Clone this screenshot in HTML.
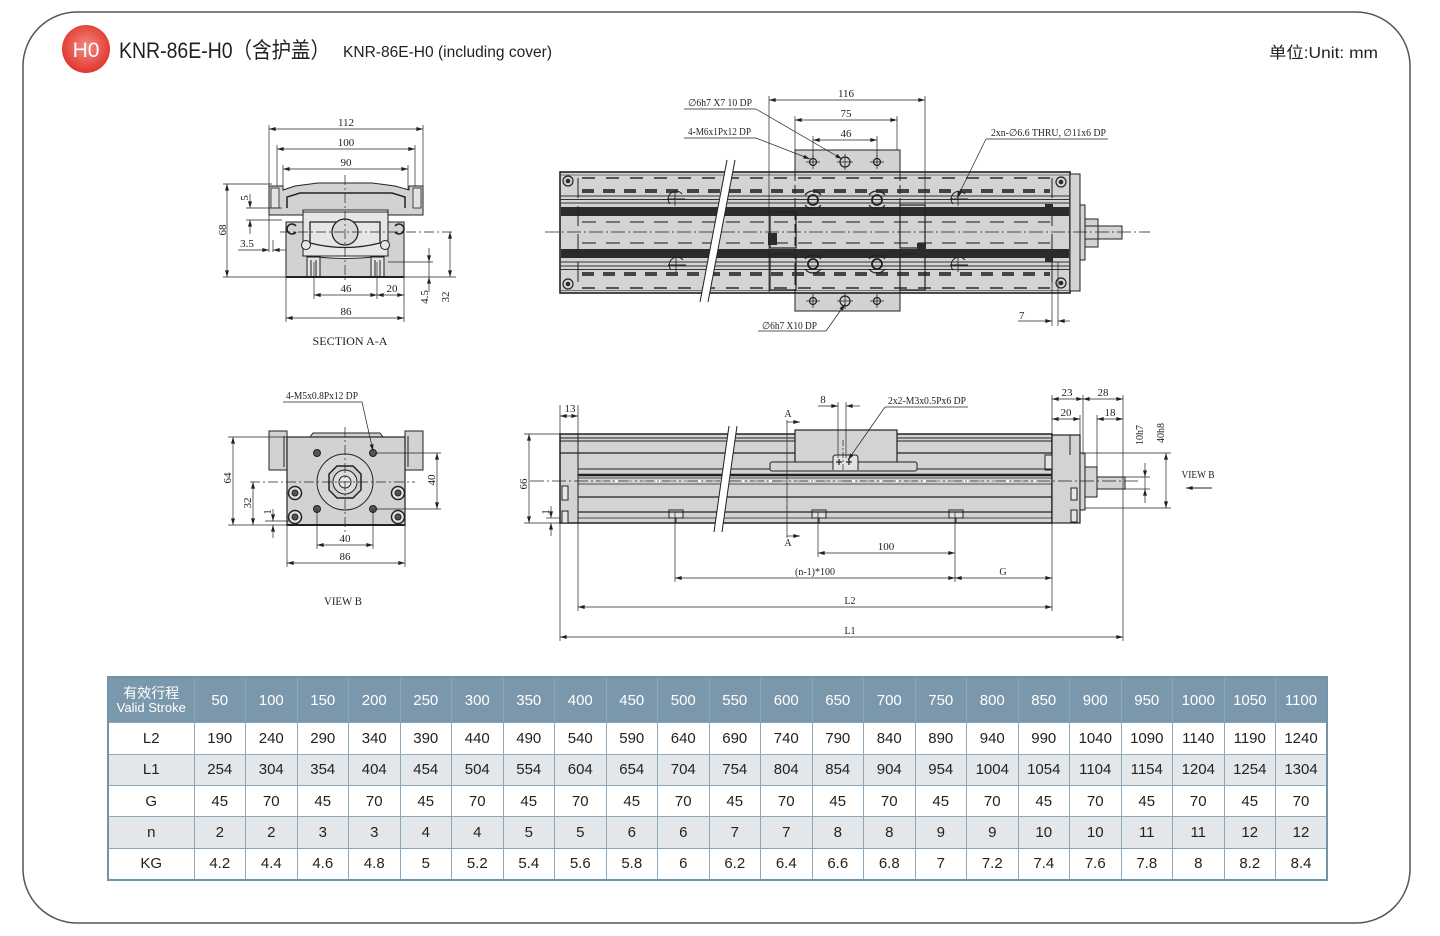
<!DOCTYPE html>
<html><head><meta charset="utf-8">
<style>
html,body{margin:0;padding:0;background:#fff;}
body{width:1440px;height:936px;position:relative;overflow:hidden;font-family:"Liberation Sans","Noto Sans CJK SC",sans-serif;}
svg{position:absolute;left:0;top:0;}
table{position:absolute;left:107px;top:676px;width:1219px;height:205px;border-collapse:collapse;table-layout:fixed;font-family:"Liberation Sans","Noto Sans CJK SC",sans-serif;font-size:15px;color:#222;border:2px solid #7194ab;}
td,th{border:1px solid #8ca7ba;text-align:center;padding:0;}
th{background:#7b97ab;color:#fff;font-weight:normal;height:44px;font-size:15px;}
td{height:30px;background:#fff;}
tr.alt td{background:#e3e7ea;}
.h1{font-size:14px;line-height:15px;font-family:"Liberation Sans","Noto Sans CJK SC",sans-serif;}
.h2{font-size:13px;line-height:14px;}
</style></head><body>
<svg width="1440" height="936" viewBox="0 0 1440 936" xmlns="http://www.w3.org/2000/svg">
<defs>
<marker id="ar" viewBox="0 0 10 6" refX="10" refY="3" markerWidth="8" markerHeight="4" markerUnits="userSpaceOnUse" orient="auto-start-reverse"><path d="M0,0 L10,3 L0,6z" fill="#222"/></marker>
<radialGradient id="rg" cx="50%" cy="45%" r="55%"><stop offset="0" stop-color="#f58b80"/><stop offset="1" stop-color="#e0352e"/></radialGradient>
</defs>
<rect x="23" y="12" width="1387" height="911" rx="54" ry="54" fill="none" stroke="#555" stroke-width="1.5"/>
<circle cx="86" cy="49" r="24" fill="url(#rg)"/>
<text x="86" y="57" font-family="Liberation Sans, sans-serif" font-size="21" fill="#fff" text-anchor="middle">H0</text>
<text x="119" y="58" font-family="Liberation Sans, Noto Sans CJK SC, sans-serif" font-size="22" fill="#231f20" textLength="211" lengthAdjust="spacingAndGlyphs">KNR-86E-H0（含护盖）</text>
<text x="343" y="57" font-family="Liberation Sans, sans-serif" font-size="16" fill="#231f20" textLength="209" lengthAdjust="spacingAndGlyphs">KNR-86E-H0 (including cover)</text>
<text x="1269" y="58" font-family="Liberation Sans, Noto Sans CJK SC, sans-serif" font-size="16" fill="#231f20" textLength="109" lengthAdjust="spacingAndGlyphs">单位:Unit: mm</text>

<!-- ============ SECTION A-A ============ -->
<g stroke="#222" stroke-width="1">
<path d="M269,186 L283,186 L283,190 L295,186 L318,183 L372,183 L395,186 L409,190 L409,186 L423,186 L423,215 L388,215 L388,210 L303,210 L303,215 L269,215 Z" fill="#d2d2d2"/>
<path d="M287,208 L287,197 L300,193 L392,193 L405,197 L405,208" fill="none" stroke-width="1.5"/>
<rect x="271" y="188" width="8" height="20" fill="#e2e2e2" stroke-width="0.8"/>
<rect x="413" y="188" width="8" height="20" fill="#e2e2e2" stroke-width="0.8"/>
<path d="M286,222 L303,222 L303,255 Q345,262 388,255 L388,222 L404,222 L404,277 L286,277 Z" fill="#d2d2d2"/>
<rect x="303" y="212" width="85" height="44" fill="#e6e6e6"/>
<path d="M310,243 L310,222 L380,222 L380,243 Q345,252 310,243 Z" fill="none" stroke-width="1.3"/>
<circle cx="345" cy="232" r="13" fill="#d8d8d8" stroke-width="1.3"/>
<path d="M296,226 A5,5 0 1 0 296,232" fill="none" stroke-width="1.6"/>
<path d="M395,226 A5,5 0 1 1 395,232" fill="none" stroke-width="1.6"/>
<circle cx="306" cy="245" r="4.5" fill="#e6e6e6"/>
<circle cx="385" cy="245" r="4.5" fill="#e6e6e6"/>
<rect x="307" y="257" width="13" height="20" fill="#e2e2e2"/>
<rect x="371" y="257" width="13" height="20" fill="#e2e2e2"/>
<line x1="311" y1="260" x2="311" y2="277"/><line x1="316" y1="260" x2="316" y2="277"/>
<line x1="375" y1="260" x2="375" y2="277"/><line x1="380" y1="260" x2="380" y2="277"/>
<line x1="286" y1="277" x2="404" y2="277" stroke-width="2"/>
</g>
<g stroke="#222" stroke-width="0.7" fill="none">
<line x1="345" y1="175" x2="345" y2="283" stroke-dasharray="10 3 2 3"/>
<line x1="280" y1="232" x2="455" y2="232" stroke-dasharray="10 3 2 3"/>
<line x1="269" y1="125" x2="269" y2="252"/><line x1="277" y1="145" x2="277" y2="186"/><line x1="283" y1="165" x2="283" y2="190"/>
<line x1="408" y1="165" x2="408" y2="190"/><line x1="415" y1="145" x2="415" y2="186"/><line x1="423" y1="125" x2="423" y2="186"/>
<line x1="269" y1="129" x2="423" y2="129" marker-start="url(#ar)" marker-end="url(#ar)"/>
<line x1="277" y1="149" x2="415" y2="149" marker-start="url(#ar)" marker-end="url(#ar)"/>
<line x1="283" y1="169" x2="408" y2="169" marker-start="url(#ar)" marker-end="url(#ar)"/>
<line x1="223" y1="184" x2="272" y2="184"/><line x1="223" y1="277" x2="456" y2="277"/>
<line x1="227" y1="184" x2="227" y2="277" marker-start="url(#ar)" marker-end="url(#ar)"/>
<line x1="246" y1="208" x2="282" y2="208"/><line x1="246" y1="220" x2="282" y2="220"/>
<line x1="250" y1="194" x2="250" y2="208" marker-end="url(#ar)"/><line x1="250" y1="234" x2="250" y2="220" marker-end="url(#ar)"/>
<line x1="273" y1="240" x2="273" y2="252"/>
<line x1="238" y1="250" x2="269" y2="250" marker-end="url(#ar)"/><line x1="286" y1="250" x2="273" y2="250" marker-end="url(#ar)"/>
<line x1="314" y1="262" x2="314" y2="299"/><line x1="377" y1="262" x2="377" y2="299"/>
<line x1="286" y1="277" x2="286" y2="322"/><line x1="404" y1="277" x2="404" y2="322"/>
<line x1="314" y1="295" x2="377" y2="295" marker-start="url(#ar)" marker-end="url(#ar)"/>
<line x1="377" y1="295" x2="404" y2="295" marker-start="url(#ar)" marker-end="url(#ar)"/>
<line x1="286" y1="318" x2="404" y2="318" marker-start="url(#ar)" marker-end="url(#ar)"/>
<line x1="388" y1="262" x2="433" y2="262"/>
<line x1="429" y1="248" x2="429" y2="262" marker-end="url(#ar)"/><line x1="429" y1="292" x2="429" y2="277" marker-end="url(#ar)"/><line x1="429" y1="262" x2="429" y2="277"/>
<line x1="450" y1="232" x2="450" y2="277" marker-start="url(#ar)" marker-end="url(#ar)"/>
</g>
<g font-family="Liberation Serif, serif" font-size="11" fill="#222" text-anchor="middle">
<text x="346" y="126">112</text><text x="346" y="146">100</text><text x="346" y="166">90</text>
<text transform="translate(226,230) rotate(-90)">68</text>
<text transform="translate(248,198) rotate(-90)">5</text>
<text x="247" y="247">3.5</text>
<text x="346" y="292">46</text><text x="392" y="292">20</text><text x="346" y="315">86</text>
<text transform="translate(428,297) rotate(-90)">4.5</text>
<text transform="translate(449,297) rotate(-90)">32</text>
<text x="350" y="345" font-size="12" textLength="75" lengthAdjust="spacingAndGlyphs">SECTION A-A</text>
</g>

<!-- ============ VIEW B (left) ============ -->
<g stroke="#222" stroke-width="1">
<rect x="269" y="431" width="18" height="39" fill="#d2d2d2"/>
<rect x="405" y="431" width="18" height="39" fill="#d2d2d2"/>
<line x1="284" y1="436" x2="284" y2="467"/><line x1="408" y1="436" x2="408" y2="467"/>
<path d="M310,437 L313,433 L380,433 L383,437" fill="#d2d2d2"/>
<rect x="287" y="437" width="118" height="88" fill="#d2d2d2" stroke-width="1.2"/>
<line x1="287" y1="525" x2="405" y2="525" stroke-width="2"/>
<circle cx="345" cy="482" r="28" fill="#d6d6d6"/>
<polygon points="337,466 353,466 361,474 361,490 353,498 337,498 329,490 329,474" fill="#cfcfcf" stroke-width="1.5"/>
<circle cx="345" cy="482" r="12" fill="#dcdcdc"/>
<circle cx="345" cy="482" r="6" fill="#e6e6e6"/>
<circle cx="317" cy="453" r="3.5" fill="#555"/><circle cx="373" cy="453" r="3.5" fill="#555"/>
<circle cx="317" cy="509" r="3.5" fill="#555"/><circle cx="373" cy="509" r="3.5" fill="#555"/>
<g fill="#e0e0e0" stroke-width="1.5">
<circle cx="295" cy="493" r="6.5"/><circle cx="398" cy="493" r="6.5"/><circle cx="295" cy="517" r="6.5"/><circle cx="398" cy="517" r="6.5"/>
</g>
<g fill="#555"><circle cx="295" cy="493" r="3"/><circle cx="398" cy="493" r="3"/><circle cx="295" cy="517" r="3"/><circle cx="398" cy="517" r="3"/></g>
</g>
<g stroke="#222" stroke-width="0.7" fill="none">
<line x1="345" y1="427" x2="345" y2="535" stroke-dasharray="10 3 2 3"/>
<line x1="250" y1="482" x2="415" y2="482" stroke-dasharray="10 3 2 3"/>
<line x1="228" y1="437" x2="290" y2="437"/><line x1="228" y1="525" x2="287" y2="525"/>
<line x1="233" y1="437" x2="233" y2="525" marker-start="url(#ar)" marker-end="url(#ar)"/>
<line x1="253" y1="482" x2="253" y2="525" marker-start="url(#ar)" marker-end="url(#ar)"/>
<line x1="265" y1="521" x2="290" y2="521"/>
<line x1="273" y1="509" x2="273" y2="521" marker-end="url(#ar)"/><line x1="273" y1="538" x2="273" y2="525" marker-end="url(#ar)"/>
<line x1="375" y1="453" x2="441" y2="453"/><line x1="375" y1="509" x2="441" y2="509"/>
<line x1="437" y1="453" x2="437" y2="509" marker-start="url(#ar)" marker-end="url(#ar)"/>
<line x1="317" y1="509" x2="317" y2="549"/><line x1="373" y1="509" x2="373" y2="549"/>
<line x1="317" y1="545" x2="373" y2="545" marker-start="url(#ar)" marker-end="url(#ar)"/>
<line x1="287" y1="525" x2="287" y2="567"/><line x1="405" y1="525" x2="405" y2="567"/>
<line x1="287" y1="563" x2="405" y2="563" marker-start="url(#ar)" marker-end="url(#ar)"/>
<line x1="283" y1="402" x2="362" y2="402"/><line x1="362" y1="402" x2="373" y2="451" marker-end="url(#ar)"/>
</g>
<g font-family="Liberation Serif, serif" font-size="11" fill="#222" text-anchor="middle">
<text x="322" y="399" font-size="10" textLength="72" lengthAdjust="spacingAndGlyphs">4-M5x0.8Px12 DP</text>
<text transform="translate(231,478) rotate(-90)">64</text>
<text transform="translate(251,503) rotate(-90)">32</text>
<text transform="translate(271,512) rotate(-90)">1</text>
<text transform="translate(435,480) rotate(-90)">40</text>
<text x="345" y="542">40</text><text x="345" y="560">86</text>
<text x="343" y="605" font-size="12" textLength="38" lengthAdjust="spacingAndGlyphs">VIEW B</text>
</g>

<!-- ============ TOP VIEW ============ -->
<g stroke="#222" stroke-width="1">
<rect x="795" y="150" width="105" height="22" fill="#d2d2d2"/>
<rect x="795" y="293" width="105" height="18" fill="#d2d2d2"/>
<rect x="560" y="172" width="510" height="121" fill="#d3d3d3" stroke-width="1.6"/>
<rect x="1070" y="174" width="10" height="117" fill="#d3d3d3"/>
<rect x="1080" y="205" width="5" height="55" fill="#d3d3d3"/>
<rect x="1085" y="219" width="13" height="28" fill="#d3d3d3"/>
<line x1="1085" y1="226" x2="1098" y2="226"/><line x1="1085" y1="239" x2="1098" y2="239"/>
<rect x="1098" y="226" width="24" height="13" fill="#d3d3d3"/>
</g>
<g fill="none">
<line x1="560" y1="175" x2="1070" y2="175" stroke="#555" stroke-width="0.8"/>
<line x1="582" y1="178" x2="1050" y2="178" stroke="#555" stroke-width="2" stroke-dasharray="13 11"/>
<line x1="582" y1="191" x2="1050" y2="191" stroke="#444" stroke-width="4" stroke-dasharray="12 9"/>
<line x1="560" y1="196" x2="1070" y2="196" stroke="#333" stroke-width="0.9"/>
<line x1="560" y1="199.5" x2="1070" y2="199.5" stroke="#333" stroke-width="0.9"/>
<line x1="560" y1="203" x2="1070" y2="203" stroke="#333" stroke-width="0.9"/>
<rect x="561" y="207" width="508" height="9" fill="#2c2c2c"/>
<line x1="582" y1="222" x2="1050" y2="222" stroke="#555" stroke-width="1.6" stroke-dasharray="14 10"/>
<line x1="582" y1="243" x2="1050" y2="243" stroke="#555" stroke-width="1.6" stroke-dasharray="14 10"/>
<rect x="561" y="249" width="508" height="9" fill="#2c2c2c"/>
<line x1="560" y1="262" x2="1070" y2="262" stroke="#333" stroke-width="0.9"/>
<line x1="560" y1="266" x2="1070" y2="266" stroke="#333" stroke-width="0.9"/>
<line x1="560" y1="269.5" x2="1070" y2="269.5" stroke="#333" stroke-width="0.9"/>
<line x1="582" y1="274" x2="1050" y2="274" stroke="#444" stroke-width="4" stroke-dasharray="12 9"/>
<line x1="582" y1="288" x2="1050" y2="288" stroke="#555" stroke-width="2" stroke-dasharray="13 11"/>
<line x1="560" y1="290.5" x2="1070" y2="290.5" stroke="#555" stroke-width="0.8"/>
<line x1="545" y1="232" x2="1150" y2="232" stroke="#222" stroke-width="0.8" stroke-dasharray="14 3 2 3"/>
<line x1="578" y1="178" x2="578" y2="288" stroke="#222" stroke-width="1" stroke-dasharray="20 8"/>
<line x1="1052" y1="178" x2="1052" y2="288" stroke="#222" stroke-width="1" stroke-dasharray="20 8"/>
<line x1="795" y1="172" x2="795" y2="293" stroke="#222" stroke-width="1" stroke-dasharray="9 4"/>
<line x1="900" y1="172" x2="900" y2="293" stroke="#222" stroke-width="1" stroke-dasharray="9 4"/>
</g>
<g stroke="#222" stroke-width="1.2" fill="none">
<circle cx="568" cy="181" r="5"/><circle cx="568" cy="284" r="5"/><circle cx="1061" cy="182" r="5"/><circle cx="1061" cy="283" r="5"/>
<rect x="770" y="212" width="26" height="36"/><rect x="770" y="254" width="26" height="36"/>
<rect x="900" y="205" width="25" height="43"/><rect x="900" y="254" width="25" height="36"/>
<circle cx="813" cy="200" r="5" stroke-width="1.8"/><circle cx="877" cy="200" r="5" stroke-width="1.8"/>
<circle cx="813" cy="264" r="5" stroke-width="1.8"/><circle cx="877" cy="264" r="5" stroke-width="1.8"/>
<path d="M805,195 A10,10 0 0 1 821,195 M805,205 A10,10 0 0 0 821,205 M869,195 A10,10 0 0 1 885,195 M869,205 A10,10 0 0 0 885,205 M805,259 A10,10 0 0 1 821,259 M805,269 A10,10 0 0 0 821,269 M869,259 A10,10 0 0 1 885,259 M869,269 A10,10 0 0 0 885,269"/>
<path d="M667,199 L685,199 M670,204 A7,7 0 0 1 682,194 M668,265 L686,265 M671,270 A7,7 0 0 1 683,260 M950,199 L968,199 M953,204 A7,7 0 0 1 965,194 M950,265 L968,265 M953,270 A7,7 0 0 1 965,260" stroke-width="1"/>
<line x1="675" y1="192" x2="675" y2="206" stroke-width="0.8"/><line x1="676" y1="258" x2="676" y2="272" stroke-width="0.8"/>
<line x1="958" y1="192" x2="958" y2="206" stroke-width="0.8"/><line x1="958" y1="258" x2="958" y2="272" stroke-width="0.8"/>
<circle cx="813" cy="162" r="3.5"/><circle cx="845" cy="162" r="5"/><circle cx="877" cy="162" r="3.5"/>
<circle cx="813" cy="301" r="3.5"/><circle cx="845" cy="301" r="5"/><circle cx="877" cy="301" r="3.5"/>
<path d="M806,162 L820,162 M813,155 L813,169 M837,162 L853,162 M845,154 L845,170 M870,162 L884,162 M877,155 L877,169 M806,301 L820,301 M813,294 L813,308 M837,301 L853,301 M845,293 L845,309 M870,301 L884,301 M877,294 L877,308" stroke-width="0.8"/>
</g>
<g fill="#2c2c2c"><circle cx="568" cy="181" r="2.3"/><circle cx="568" cy="284" r="2.3"/><circle cx="1061" cy="182" r="2.3"/><circle cx="1061" cy="283" r="2.3"/>
<rect x="768" y="233" width="9" height="12"/><rect x="917" y="243" width="9" height="13"/><rect x="1045" y="204" width="8" height="12"/><rect x="1045" y="250" width="8" height="12"/></g>
<polygon points="727,160 735,160 708,302 700,302" fill="#fff"/>
<line x1="727" y1="160" x2="700" y2="302" stroke="#222" stroke-width="1"/>
<line x1="735" y1="160" x2="708" y2="302" stroke="#222" stroke-width="1"/>
<g stroke="#222" stroke-width="0.7" fill="none">
<line x1="769" y1="96" x2="769" y2="292"/><line x1="925" y1="96" x2="925" y2="222"/>
<line x1="795" y1="116" x2="795" y2="150"/><line x1="897" y1="116" x2="897" y2="150"/>
<line x1="813" y1="136" x2="813" y2="157"/><line x1="877" y1="136" x2="877" y2="157"/>
<line x1="769" y1="100" x2="925" y2="100" marker-start="url(#ar)" marker-end="url(#ar)"/>
<line x1="795" y1="120" x2="897" y2="120" marker-start="url(#ar)" marker-end="url(#ar)"/>
<line x1="813" y1="140" x2="877" y2="140" marker-start="url(#ar)" marker-end="url(#ar)"/>
<line x1="684" y1="109" x2="756" y2="109"/><line x1="756" y1="109" x2="842" y2="159" marker-end="url(#ar)"/>
<line x1="684" y1="138" x2="756" y2="138"/><line x1="756" y1="138" x2="810" y2="159" marker-end="url(#ar)"/>
<line x1="986" y1="139" x2="1108" y2="139"/><line x1="986" y1="139" x2="957" y2="198" marker-end="url(#ar)"/>
<line x1="758" y1="331" x2="826" y2="331"/><line x1="826" y1="331" x2="845" y2="304" marker-end="url(#ar)"/>
<line x1="1052" y1="262" x2="1052" y2="326"/><line x1="1058" y1="262" x2="1058" y2="326"/>
<line x1="1018" y1="321" x2="1052" y2="321" marker-end="url(#ar)"/><line x1="1070" y1="321" x2="1058" y2="321" marker-end="url(#ar)"/>
</g>
<g font-family="Liberation Serif, serif" font-size="10" fill="#222" text-anchor="start">
<text x="846" y="97" text-anchor="middle" font-size="11">116</text>
<text x="846" y="117" text-anchor="middle" font-size="11">75</text>
<text x="846" y="137" text-anchor="middle" font-size="11">46</text>
<text x="688" y="106" textLength="64" lengthAdjust="spacingAndGlyphs">∅6h7 X7 10 DP</text>
<text x="688" y="135" textLength="63" lengthAdjust="spacingAndGlyphs">4-M6x1Px12 DP</text>
<text x="991" y="136" textLength="115" lengthAdjust="spacingAndGlyphs">2xn-∅6.6 THRU, ∅11x6 DP</text>
<text x="762" y="329" textLength="55" lengthAdjust="spacingAndGlyphs">∅6h7 X10 DP</text>
<text x="1019" y="319" font-size="11">7</text>
</g>

<!-- ============ SIDE VIEW ============ -->
<g stroke="#222" stroke-width="1">
<rect x="560" y="434" width="492" height="89" fill="#d3d3d3" stroke-width="1.5"/>
<rect x="795" y="430" width="102" height="38" fill="#d3d3d3" stroke-width="1.2"/>
<rect x="770" y="462" width="147" height="9" rx="2" fill="#d3d3d3"/>
<path d="M833,470 L833,458 Q833,455 836,455 L855,455 Q858,455 858,458 L858,470" fill="#e2e2e2"/>
<rect x="1052" y="435" width="28" height="88" fill="#d3d3d3" stroke-width="1.2"/>
<rect x="1080" y="453" width="5" height="57" fill="#d3d3d3"/>
<rect x="1085" y="467" width="12" height="30" fill="#d3d3d3"/>
<rect x="1097" y="477" width="28" height="12" fill="#d3d3d3"/>
<rect x="562" y="486" width="6" height="14" fill="#e6e6e6"/><rect x="562" y="511" width="6" height="12" fill="#e6e6e6"/>
<rect x="1071" y="488" width="6" height="12" fill="#e6e6e6"/><rect x="1071" y="510" width="6" height="12" fill="#e6e6e6"/>
<rect x="1045" y="455" width="7" height="15" fill="#e6e6e6"/>
<rect x="669" y="510" width="14" height="8" fill="#e0e0e0"/><rect x="812" y="510" width="14" height="8" fill="#e0e0e0"/><rect x="949" y="510" width="14" height="8" fill="#e0e0e0"/>
</g>
<g stroke="#222" fill="none">
<line x1="560" y1="438" x2="795" y2="438" stroke-width="1"/><line x1="897" y1="438" x2="1052" y2="438" stroke-width="1"/>
<line x1="560" y1="441" x2="795" y2="441" stroke-width="1"/><line x1="897" y1="441" x2="1052" y2="441" stroke-width="1"/>
<line x1="560" y1="453" x2="795" y2="453" stroke-width="1.3"/><line x1="897" y1="453" x2="1052" y2="453" stroke-width="1.3"/>
<line x1="578" y1="469" x2="770" y2="469" stroke-width="1"/><line x1="917" y1="469" x2="1052" y2="469" stroke-width="1"/>
<line x1="578" y1="475" x2="1052" y2="475" stroke-width="2.5"/>
<line x1="578" y1="478" x2="1052" y2="478" stroke-width="0.8"/>
<line x1="600" y1="481" x2="1040" y2="481" stroke="#fff" stroke-width="2" stroke-dasharray="4 10"/>
<line x1="578" y1="484" x2="1052" y2="484" stroke-width="0.8"/>
<line x1="578" y1="497" x2="1052" y2="497" stroke-width="1.3"/>
<line x1="578" y1="512" x2="1052" y2="512" stroke-width="1.3"/>
<line x1="578" y1="518" x2="1052" y2="518" stroke-width="0.8"/>
<line x1="578" y1="434" x2="578" y2="523" stroke-width="1"/>
<line x1="1070" y1="435" x2="1070" y2="455" stroke-width="1"/>
<line x1="676" y1="518" x2="676" y2="523"/><line x1="819" y1="518" x2="819" y2="523"/><line x1="956" y1="518" x2="956" y2="523"/>
<line x1="530" y1="481" x2="1140" y2="481" stroke-width="0.8" stroke-dasharray="14 3 2 3"/>
<line x1="843" y1="440" x2="843" y2="472" stroke-width="0.7" stroke-dasharray="6 2 2 2"/>
<path d="M836,462 L842,462 M839,459 L839,465 M846,462 L852,462 M849,459 L849,465" stroke-width="1.2"/>
</g>
<polygon points="729,426 737,426 722,532 714,532" fill="#fff"/>
<line x1="729" y1="426" x2="714" y2="532" stroke="#222" stroke-width="1"/>
<line x1="737" y1="426" x2="722" y2="532" stroke="#222" stroke-width="1"/>
<g stroke="#222" stroke-width="0.7" fill="none">
<line x1="787" y1="420" x2="787" y2="538"/>
<line x1="787" y1="422" x2="800" y2="422" marker-end="url(#ar)"/>
<line x1="787" y1="536" x2="800" y2="536" marker-end="url(#ar)"/>
<line x1="560" y1="405" x2="560" y2="434"/><line x1="578" y1="405" x2="578" y2="611"/>
<line x1="560" y1="416" x2="578" y2="416" marker-start="url(#ar)" marker-end="url(#ar)"/>
<line x1="524" y1="434" x2="560" y2="434"/><line x1="524" y1="523" x2="560" y2="523"/>
<line x1="529" y1="434" x2="529" y2="523" marker-start="url(#ar)" marker-end="url(#ar)"/>
<line x1="546" y1="518" x2="560" y2="518"/>
<line x1="551" y1="506" x2="551" y2="518" marker-end="url(#ar)"/><line x1="551" y1="536" x2="551" y2="523" marker-end="url(#ar)"/>
<line x1="818" y1="406" x2="838" y2="406" marker-end="url(#ar)"/><line x1="860" y1="406" x2="846" y2="406" marker-end="url(#ar)"/>
<line x1="838" y1="402" x2="838" y2="458"/><line x1="846" y1="402" x2="846" y2="458"/>
<line x1="885" y1="407" x2="968" y2="407"/><line x1="885" y1="407" x2="848" y2="460" marker-end="url(#ar)"/>
<line x1="675" y1="512" x2="675" y2="582"/><line x1="818" y1="512" x2="818" y2="557"/><line x1="955" y1="512" x2="955" y2="582"/>
<line x1="818" y1="553" x2="955" y2="553" marker-start="url(#ar)" marker-end="url(#ar)"/>
<line x1="675" y1="578" x2="955" y2="578" marker-start="url(#ar)" marker-end="url(#ar)"/>
<line x1="955" y1="578" x2="1052" y2="578" marker-start="url(#ar)" marker-end="url(#ar)"/>
<line x1="1052" y1="395" x2="1052" y2="611"/>
<line x1="578" y1="607" x2="1052" y2="607" marker-start="url(#ar)" marker-end="url(#ar)"/>
<line x1="560" y1="523" x2="560" y2="641"/><line x1="1123" y1="395" x2="1123" y2="641"/>
<line x1="560" y1="637" x2="1123" y2="637" marker-start="url(#ar)" marker-end="url(#ar)"/>
<line x1="1083" y1="395" x2="1083" y2="455"/><line x1="1080" y1="415" x2="1080" y2="437"/><line x1="1097" y1="415" x2="1097" y2="477"/>
<line x1="1052" y1="399" x2="1083" y2="399" marker-start="url(#ar)" marker-end="url(#ar)"/>
<line x1="1083" y1="399" x2="1123" y2="399" marker-start="url(#ar)" marker-end="url(#ar)"/>
<line x1="1052" y1="419" x2="1080" y2="419" marker-start="url(#ar)" marker-end="url(#ar)"/>
<line x1="1097" y1="419" x2="1123" y2="419" marker-start="url(#ar)" marker-end="url(#ar)"/>
<line x1="1125" y1="477" x2="1150" y2="477"/><line x1="1125" y1="489" x2="1150" y2="489"/>
<line x1="1145" y1="463" x2="1145" y2="477" marker-end="url(#ar)"/><line x1="1145" y1="503" x2="1145" y2="489" marker-end="url(#ar)"/><line x1="1145" y1="477" x2="1145" y2="489"/>
<line x1="1085" y1="453" x2="1171" y2="453"/><line x1="1085" y1="508" x2="1171" y2="508"/>
<line x1="1166" y1="453" x2="1166" y2="508" marker-start="url(#ar)" marker-end="url(#ar)"/>
<line x1="1212" y1="488" x2="1186" y2="488" marker-end="url(#ar)" stroke-width="1"/>
</g>
<g font-family="Liberation Serif, serif" font-size="11" fill="#222" text-anchor="middle">
<text x="788" y="417" font-size="10">A</text><text x="788" y="546" font-size="10">A</text>
<text x="570" y="412">13</text>
<text transform="translate(527,484) rotate(-90)">66</text>
<text transform="translate(549,512) rotate(-90)">1</text>
<text x="823" y="403">8</text>
<text x="927" y="404" font-size="10" textLength="78" lengthAdjust="spacingAndGlyphs">2x2-M3x0.5Px6 DP</text>
<text x="886" y="550">100</text>
<text x="815" y="575" font-size="10">(n-1)*100</text>
<text x="1003" y="575" font-size="10">G</text>
<text x="850" y="604" font-size="10">L2</text>
<text x="850" y="634" font-size="10">L1</text>
<text x="1067" y="396">23</text><text x="1103" y="396">28</text>
<text x="1066" y="416">20</text><text x="1110" y="416">18</text>
<text transform="translate(1143,435) rotate(-90)" font-size="10">10h7</text>
<text transform="translate(1164,433) rotate(-90)" font-size="10">40h8</text>
<text x="1198" y="478" font-size="11" textLength="33" lengthAdjust="spacingAndGlyphs">VIEW B</text>
</g>
</svg>

<table>
<colgroup><col style="width:86px"><col span="22" style="width:51.5px"></colgroup>
<tr><th><div class="h1">有效行程</div><div class="h2">Valid Stroke</div></th><th>50</th><th>100</th><th>150</th><th>200</th><th>250</th><th>300</th><th>350</th><th>400</th><th>450</th><th>500</th><th>550</th><th>600</th><th>650</th><th>700</th><th>750</th><th>800</th><th>850</th><th>900</th><th>950</th><th>1000</th><th>1050</th><th>1100</th></tr>
<tr><td>L2</td><td>190</td><td>240</td><td>290</td><td>340</td><td>390</td><td>440</td><td>490</td><td>540</td><td>590</td><td>640</td><td>690</td><td>740</td><td>790</td><td>840</td><td>890</td><td>940</td><td>990</td><td>1040</td><td>1090</td><td>1140</td><td>1190</td><td>1240</td></tr>
<tr class="alt"><td>L1</td><td>254</td><td>304</td><td>354</td><td>404</td><td>454</td><td>504</td><td>554</td><td>604</td><td>654</td><td>704</td><td>754</td><td>804</td><td>854</td><td>904</td><td>954</td><td>1004</td><td>1054</td><td>1104</td><td>1154</td><td>1204</td><td>1254</td><td>1304</td></tr>
<tr><td>G</td><td>45</td><td>70</td><td>45</td><td>70</td><td>45</td><td>70</td><td>45</td><td>70</td><td>45</td><td>70</td><td>45</td><td>70</td><td>45</td><td>70</td><td>45</td><td>70</td><td>45</td><td>70</td><td>45</td><td>70</td><td>45</td><td>70</td></tr>
<tr class="alt"><td>n</td><td>2</td><td>2</td><td>3</td><td>3</td><td>4</td><td>4</td><td>5</td><td>5</td><td>6</td><td>6</td><td>7</td><td>7</td><td>8</td><td>8</td><td>9</td><td>9</td><td>10</td><td>10</td><td>11</td><td>11</td><td>12</td><td>12</td></tr>
<tr><td>KG</td><td>4.2</td><td>4.4</td><td>4.6</td><td>4.8</td><td>5</td><td>5.2</td><td>5.4</td><td>5.6</td><td>5.8</td><td>6</td><td>6.2</td><td>6.4</td><td>6.6</td><td>6.8</td><td>7</td><td>7.2</td><td>7.4</td><td>7.6</td><td>7.8</td><td>8</td><td>8.2</td><td>8.4</td></tr>
</table>
</body></html>
